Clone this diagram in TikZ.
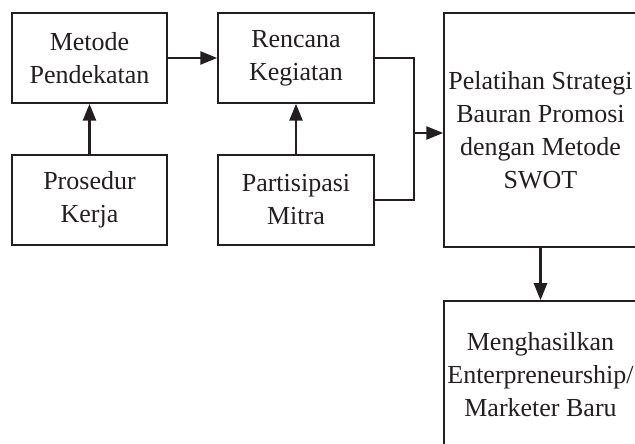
\documentclass[tikz,border=0pt]{standalone}
\usepackage{fontspec}
\setmainfont{Liberation Serif}
\usetikzlibrary{arrows.meta}
\definecolor{ink}{HTML}{231F20}
\begin{document}
\begin{tikzpicture}[x=1pt,y=1pt,
  box/.style={draw=ink,line width=1.5pt,align=center,inner sep=0pt,text=ink,
    font=\fontsize{26}{33}\selectfont},
  conn/.style={draw=ink,line width=2.6pt,-{Triangle[length=17pt,width=13pt]}},
  seg/.style={draw=ink,line width=2.6pt}]
\useasboundingbox (0,0) rectangle (635,444);
\clip (0,0) rectangle (635,444);
\fill[white] (0,0) rectangle (635,444);
\node[box,minimum width=155,minimum height=90] (b1) at (89.5,386) {Metode\\Pendekatan};
\node[box,minimum width=156,minimum height=90] (b2) at (296,386) {Rencana\\Kegiatan};
\node[box,minimum width=155,minimum height=90] (b3) at (89.5,244) {Prosedur\\Kerja};
\node[box,minimum width=156,minimum height=90] (b4) at (296,244) {Partisipasi\\Mitra};
\node[box,minimum width=193,minimum height=234] (b5) at (540.5,314) {Pelatihan Strategi\\Bauran Promosi\\dengan Metode\\SWOT};
\node[box,minimum width=193,minimum height=148] (b6) at (540.5,69) {Menghasilkan\\Enterpreneurship/\\Marketer Baru};
\coordinate (j) at (414,311);
\draw[conn] (b1.east) -- (b2.west);
\draw[conn] (b3.north) -- (b1.south);
\draw[conn] (b4.north) -- (b2.south);
\draw[seg] (b2.east) -| (j);
\draw[seg] (b4.east) -| (j);
\draw[conn] (j) -- (b5.west |- j);
\draw[conn] (b5.south) -- (b6.north);
\end{tikzpicture}
\end{document}
